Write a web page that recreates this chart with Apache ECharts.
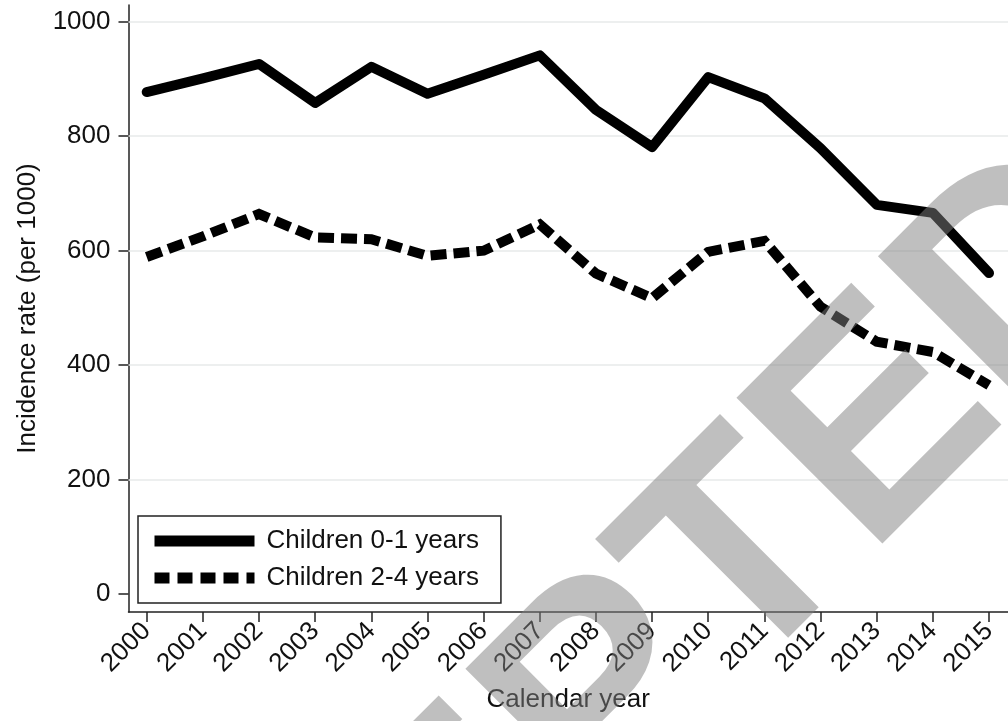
<!DOCTYPE html>
<html>
<head>
<meta charset="utf-8">
<title>Incidence rate by calendar year</title>
<script src="https://cdn.jsdelivr.net/npm/echarts@6/dist/echarts.min.js"></script>
<style>
  html, body { margin: 0; padding: 0; background: #ffffff; }
  #chart { width: 1008px; height: 721px; }
</style>
</head>
<body>
<div id="chart"></div>
<script>
// Calendar years on the x axis
const years = [2000, 2001, 2002, 2003, 2004, 2005, 2006, 2007,
               2008, 2009, 2010, 2011, 2012, 2013, 2014, 2015];

// Incidence rate (per 1000), children 0-1 years
const ratesAge0to1 = [877, 901, 926, 858, 921, 874, 907, 941,
                      846, 781, 903, 866, 779, 680, 666, 561];

// Incidence rate (per 1000), children 2-4 years
const ratesAge2to4 = [589, 625, 664, 623, 620, 591, 600, 646,
                      560, 517, 598, 617, 502, 441, 423, 365];

const seriesNames = ['Children 0-1 years', 'Children 2-4 years'];

// Axis ticks and horizontal reference lines
const yTickValues = [0, 200, 400, 600, 800, 1000];
const yGridValues = [200, 400, 600, 800, 1000];
const xTickValues = years.slice();

const FONT = 'Liberation Sans, Arial, Helvetica, sans-serif';
const INK = '#111111';
const AXIS = '#222222';

const chart = echarts.init(document.getElementById('chart'), null, { renderer: 'canvas' });

const pairs = (vals) => years.map((y, i) => [y, vals[i]]);

const option = {
  backgroundColor: '#ffffff',
  animation: false,
  grid: {
    left: 128.5, right: 0, top: 5, bottom: 109,
    containLabel: false,
    outerBoundsMode: 'none'
  },
  xAxis: {
    type: 'value',
    min: 1999.676,
    max: 2015.338,
    name: 'Calendar year',
    nameLocation: 'middle',
    nameGap: 75,
    nameTextStyle: { fontFamily: FONT, fontSize: 26, color: INK },
    axisLine: { show: true, onZero: false, lineStyle: { color: AXIS, width: 1.5 } },
    axisTick: { show: true, length: 10, customValues: xTickValues, lineStyle: { color: AXIS, width: 1.5 } },
    axisLabel: {
      customValues: xTickValues,
      rotate: 45,
      margin: 15,
      fontFamily: FONT,
      fontSize: 26,
      color: INK,
      formatter: (v) => String(v)
    },
    splitLine: { show: false }
  },
  yAxis: {
    type: 'value',
    min: -31,
    max: 1029,
    name: 'Incidence rate (per 1000)',
    nameLocation: 'middle',
    nameGap: 88,
    nameTextStyle: { fontFamily: FONT, fontSize: 26, color: INK },
    axisLine: { show: true, onZero: false, lineStyle: { color: AXIS, width: 1.5 } },
    axisTick: { show: true, length: 10, customValues: yTickValues, lineStyle: { color: AXIS, width: 1.5 } },
    axisLabel: {
      customValues: yTickValues,
      margin: 18,
      fontFamily: FONT,
      fontSize: 26,
      color: INK,
      formatter: (v) => String(v)
    },
    splitLine: { show: false }
  },
  legend: {
    orient: 'vertical',
    left: 138,
    top: 516,
    padding: [12, 22, 12, 11],
    itemWidth: 100,
    itemHeight: 11,
    itemGap: 11,
    borderColor: AXIS,
    borderWidth: 1.5,
    borderRadius: 0,
    backgroundColor: '#ffffff',
    textStyle: { fontFamily: FONT, fontSize: 26, color: INK, padding: [0, 0, 0, 7] },
    itemStyle: { color: 'transparent', borderWidth: 0 },
    data: [
      { name: seriesNames[0], lineStyle: { width: 11, type: 'solid', color: '#000', cap: 'butt' } },
      { name: seriesNames[1], lineStyle: { width: 11, type: [15, 8], color: '#000', cap: 'butt' } }
    ]
  },
  series: [
    {
      name: seriesNames[0],
      type: 'line',
      data: pairs(ratesAge0to1),
      symbol: 'none',
      showSymbol: false,
      z: 3,
      lineStyle: { color: '#000000', width: 10, type: 'solid', cap: 'round', join: 'round' },
      itemStyle: { color: '#000000' },
      markLine: {
        silent: true,
        symbol: ['none', 'none'],
        label: { show: false },
        z: 1,
        lineStyle: { color: '#e7eaea', width: 1.5, type: 'solid' },
        data: yGridValues.map((v) => ({ yAxis: v }))
      }
    },
    {
      name: seriesNames[1],
      type: 'line',
      data: pairs(ratesAge2to4),
      symbol: 'none',
      showSymbol: false,
      z: 3,
      lineStyle: { color: '#000000', width: 10, type: [16, 7], cap: 'butt', join: 'miter' },
      itemStyle: { color: '#000000' }
    }
  ],
  graphic: [
    {
      type: 'text',
      x: 521,
      y: 788,
      rotation: Math.PI / 4,
      z: 100,
      silent: true,
      style: {
        text: 'ACCEPTED',
        fontFamily: FONT,
        fontWeight: 'bold',
        fontSize: 300,
        fill: 'rgba(128,128,128,0.5)',
        align: 'center',
        verticalAlign: 'middle'
      }
    }
  ]
};

chart.setOption(option);
</script>
</body>
</html>
